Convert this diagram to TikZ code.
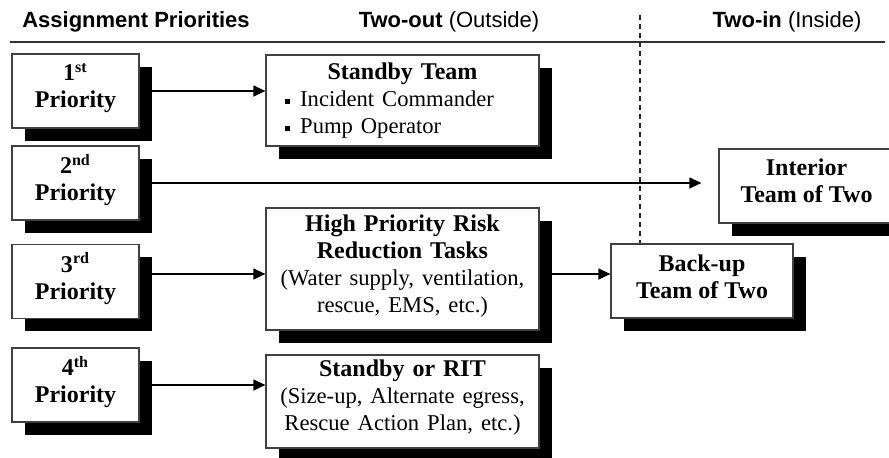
\documentclass[tikz,border=0pt]{standalone}
\usepackage{fontspec}
\setmainfont{Liberation Serif}
\setsansfont{Liberation Sans}
\usetikzlibrary{arrows.meta,shadows}

\newcommand\plainsz{\fontsize{11.3}{13.5}\selectfont\mdseries}
\newcommand\sqbul{\rule[1.3pt]{2.4pt}{2.4pt}}
\newcommand\bulline[1]{\makebox[136.5pt][l]{\hspace*{9.5pt}\sqbul\hspace{5.2pt}\plainsz #1}}
\newcommand\lowstrut[1]{\rule[-#1]{0pt}{#1}}

\tikzset{
  box/.style={draw=black!75, line width=0.6pt, fill=white, inner xsep=0pt,
    inner ysep=2pt, align=center, font=\fontsize{12}{13.5}\selectfont\bfseries,
    drop shadow={shadow xshift=6.25pt, shadow yshift=-6.25pt, fill=black, opacity=1}},
  prio/.style={box, minimum width=63.5pt, minimum height=37pt, text depth=5.6pt},
  task/.style={box, text width=136.5pt, minimum width=136.5pt},
  team/.style={box, minimum height=37pt, text depth=4.5pt},
  arr/.style={-{Triangle[length=6pt,width=5.5pt]}, line width=0.6pt},
  hdr/.style={font=\fontsize{11}{13}\sffamily\bfseries, anchor=base, inner sep=0pt}
}

\begin{document}
\begin{tikzpicture}[x=0.5pt,y=-0.5pt]
  \useasboundingbox (0,0) rectangle (889,457);
  \clip (0,0) rectangle (889,457);

  % headings
  \node[hdr] (hprio) at (136,27) {Assignment Priorities};
  \node[hdr] (hout) at (449,27) {Two-out {\mdseries(Outside)}};
  \node[hdr] (hin) at (787,27) {Two-in {\mdseries(Inside)}};
  \draw[line width=0.6pt, black!80] (10,42) -- (885,42);
  \draw[dashed, dash pattern=on 2.5pt off 2pt, line width=0.6pt, black!85]
    (640,15) -- (640,244);

  % priorities
  \node[prio] (p1) at (75.5,91)    {1\textsuperscript{st}\\Priority};
  \node[prio] (p2) at (75.5,183)   {2\textsuperscript{nd}\\Priority};
  \node[prio] (p3) at (75.5,281.5) {3\textsuperscript{rd}\\Priority};
  \node[prio] (p4) at (75.5,385)   {4\textsuperscript{th}\\Priority};

  % two-out teams
  \node[task, minimum height=45.5pt] (stb) at (402.5,100.5)
    {Standby Team\\ \bulline{Incident Commander}\\ \bulline{Pump Operator}};
  \node[task, minimum height=61pt] (hp) at (402.5,269)
    {High Priority Risk\\Reduction Tasks\\
     {\plainsz (Water supply, ventilation,}\\
     {\plainsz rescue, EMS, etc.)}\lowstrut{5.5pt}};
  \node[task, minimum height=46.5pt] (rit) at (402.5,401.5)
    {Standby or RIT\\ {\plainsz (Size-up, Alternate egress,}\\
     {\plainsz Rescue Action Plan, etc.)}\lowstrut{6pt}};

  % two-in teams
  \node[team, minimum width=91pt] (bu) at (702,281) {Back-up\\Team of Two};
  \node[team, minimum width=87.5pt, text depth=5.5pt] (int) at (806.5,186)
    {Interior\\Team of Two};

  % connectors
  \coordinate (r3) at (0,274);
  \draw[arr] ([xshift=6.25pt]p1.east) -- (stb.west |- p1.east);
  \draw[arr, shorten >=8.5pt] ([xshift=6.25pt]p2.east) -- (int.west |- p2.east);
  \draw[arr] (p3.east |- r3) ++(6.25pt,0) -- (hp.west |- r3);
  \draw[arr] (hp.east |- r3) ++(6.25pt,0) -- (bu.west |- r3);
  \draw[arr] ([xshift=6.25pt]p4.east) -- (rit.west |- p4.east);
\end{tikzpicture}
\end{document}
